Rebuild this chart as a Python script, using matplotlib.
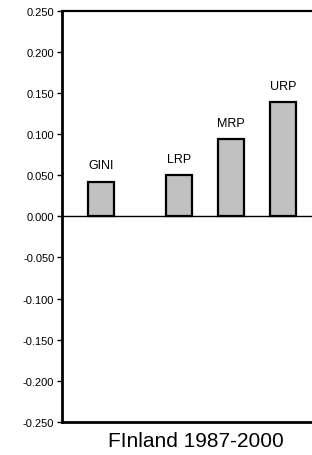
import numpy as np
import matplotlib
matplotlib.use("Agg")
from matplotlib import pyplot as plt

plt.rcParams['font.family'] = ['Liberation Sans', 'DejaVu Sans']

labels = ["GINI", "LRP", "MRP", "URP"]
values = [0.042, 0.050, 0.094, 0.139]
positions = [0, 1.5, 2.5, 3.5]
yticks = [-0.25, -0.2, -0.15, -0.1, -0.05, 0.0, 0.05, 0.1, 0.15, 0.2, 0.25]
title = "FInland 1987-2000"

fig = plt.figure(figsize=(3.12, 4.56), dpi=100)
ax = fig.add_axes([62 / 312, 33 / 456, 1 - 62 / 312, (423 - 11.5) / 456])

ax.bar(positions, values, width=0.5, color="#c0c0c0", edgecolor="black", linewidth=1.6, zorder=3)
ax.axhline(0, color="black", linewidth=1.0, zorder=4)

for x, v, lab in zip(positions, values, labels):
    ax.annotate(lab, (x, v), xytext=(0, 9.5), textcoords="offset points",
                ha="center", va="baseline", fontsize=9)

ax.set_xlim(-0.75, 4.06)
ax.set_ylim(-0.25, 0.25)
ax.set_yticks(yticks)
ax.set_yticklabels(["%.3f" % t for t in yticks], fontsize=8)
ax.set_xticks([])
ax.tick_params(axis="y", direction="out", length=3.5, width=1.0, pad=2)

ax.spines["right"].set_visible(False)
ax.spines["left"].set_linewidth(2.0)
ax.spines["bottom"].set_linewidth(2.0)
ax.spines["top"].set_linewidth(1.6)

fig.text(196 / 312, 14 / 456, title, ha="center", va="center", fontsize=15)

fig.savefig("out.png", dpi=100)
